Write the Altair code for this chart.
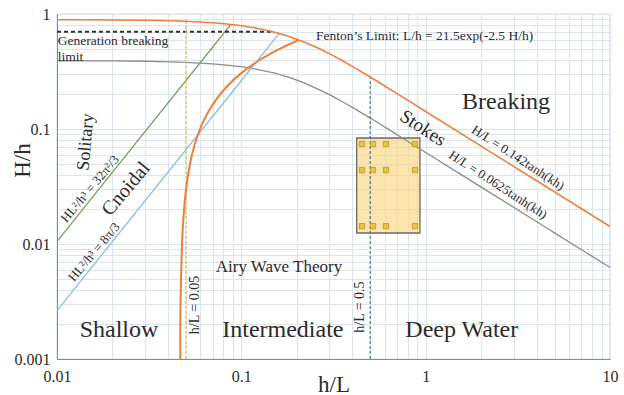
import altair as alt
import pandas as pd

# ---------------- data ----------------
# Breaking limit  H/L = 0.142 tanh(kh)
brk_x = [0.01, 0.02, 0.03, 0.05, 0.07, 0.1, 0.12, 0.15, 0.2, 0.25, 0.3, 0.35, 0.4, 0.5, 0.7, 1, 2, 5, 10]
brk_y = [0.891, 0.888, 0.882, 0.864, 0.838, 0.791, 0.755, 0.697, 0.604, 0.521, 0.452, 0.396, 0.350, 0.283, 0.2028, 0.142, 0.071, 0.0284, 0.0142]
# Stokes limit  H/L = 0.0625 tanh(kh)
sto_x = [0.01, 0.02, 0.03, 0.05, 0.07, 0.1, 0.12, 0.15, 0.2, 0.25, 0.3, 0.35, 0.4, 0.5, 0.7, 1, 2, 5, 10]
sto_y = [0.3922, 0.3908, 0.3881, 0.3803, 0.3690, 0.3481, 0.3322, 0.3069, 0.2657, 0.2293, 0.1990, 0.1742, 0.1542, 0.1245, 0.0892, 0.0625, 0.03125, 0.0125, 0.00625]
# Fenton's limit  L/h = 21.5 exp(-2.5 H/h)
fen_x = [0.04663, 0.04665, 0.04710, 0.04769, 0.04890, 0.05014, 0.05270, 0.05540, 0.05972, 0.06767, 0.07669, 0.08689, 0.09847, 0.1116, 0.1264, 0.1433, 0.1623, 0.1840, 0.2050]
fen_y = [0.001, 0.002, 0.005, 0.01, 0.02, 0.03, 0.05, 0.07, 0.1, 0.15, 0.2, 0.25, 0.3, 0.35, 0.4, 0.45, 0.5, 0.55, 0.594]
# Solitary / cnoidal boundary  HL^2/h^3 = 32 pi^2 / 3
sol_x = [0.01, 0.0878]
sol_y = [0.01053, 0.812]
# Cnoidal / Airy boundary  HL^2/h^3 = 8 pi^2 / 3
cno_x = [0.01, 0.1605]
cno_y = [0.002632, 0.678]
# Generation breaking limit
gen_x = [0.01, 0.149]
gen_y = [0.7, 0.7]
# Depth limits  h/L = 0.05 and h/L = 0.5
lim_x = [0.05, 0.5]
lim_y0 = [0.001, 0.001]
lim_y1 = [0.864, 0.283]
# Test region
box_x = [0.4226]
box_x2 = [0.931]
box_y = [0.01246]
box_y2 = [0.0835]
# Test conditions
pt_cols = [0.4516, 0.518, 0.609, 0.875]
pt_rows = [0.074, 0.044, 0.0143]

# axis tick values
x_ticks = [round(d * m, 6) for d in (0.01, 0.1, 1) for m in range(1, 10)] + [10]
y_ticks = [round(d * m, 6) for d in (0.001, 0.01, 0.1) for m in range(1, 10)] + [1]

FONT = "Liberation Serif"
TXT = "#2b2b2b"

label_expr = ("abs(log(datum.value)/LN10 - round(log(datum.value)/LN10)) < 0.001 "
              "? format(datum.value, '~g') : ''")

xscale = alt.Scale(type="log", domain=[0.01, 10], nice=False)
yscale = alt.Scale(type="log", domain=[0.001, 1], nice=False)
xaxis = alt.Axis(title="h/L", values=x_ticks, labelExpr=label_expr, grid=True,
                 ticks=False, labelFlush=False, labelOverlap=False,
                 labelFont=FONT, labelFontSize=16, labelColor=TXT, labelPadding=9,
                 titleFont=FONT, titleFontSize=23, titleFontWeight="normal", titleColor=TXT,
                 titleY=25, titleBaseline="middle",
                 domainColor="#8a8a8a", gridColor="#dbe3eb")
yaxis = alt.Axis(title="H/h", values=y_ticks, labelExpr=label_expr, grid=True,
                 ticks=False, labelFlush=False, labelOverlap=False,
                 labelFont=FONT, labelFontSize=16, labelColor=TXT, labelPadding=7,
                 titleFont=FONT, titleFontSize=23, titleFontWeight="normal", titleColor=TXT,
                 titleX=-35, titleY=146, titleAngle=-90, titleAlign="center", titleBaseline="middle",
                 domainColor="#8a8a8a", gridColor="#dbe3eb")


def X(f="x"):
    return alt.X(f"{f}:Q", scale=xscale, axis=xaxis)


def Y(f="y"):
    return alt.Y(f"{f}:Q", scale=yscale, axis=yaxis)


def curve(xs, ys, color, width, dash=None, interp="monotone"):
    df = pd.DataFrame({"x": xs, "y": ys, "i": list(range(len(xs)))})
    kw = dict(color=color, strokeWidth=width, clip=True, interpolate=interp)
    if dash:
        kw["strokeDash"] = dash
    return alt.Chart(df).mark_line(**kw).encode(x=X(), y=Y(), order=alt.Order("i:Q"))


def label(text, x, y, size, angle=0, align="center"):
    df = pd.DataFrame({"x": [x], "y": [y], "t": [text]})
    kw = dict(font=FONT, fontSize=size, color=TXT, align=align, baseline="middle")
    if angle:
        kw["angle"] = angle % 360
    return alt.Chart(df).mark_text(**kw).encode(x=X(), y=Y(), text="t:N")


box = alt.Chart(pd.DataFrame({"x": box_x, "x2": box_x2, "y": box_y, "y2": box_y2})).mark_rect(
    fill="#f9d98c", fillOpacity=0.7, stroke="#6d6b5c", strokeWidth=1.3
).encode(x=X(), x2="x2:Q", y=Y(), y2="y2:Q")

pts_df = pd.DataFrame([{"x": c, "y": r} for r in pt_rows for c in pt_cols])
pts = alt.Chart(pts_df).mark_square(size=28, fill="#e8c24a", stroke="#b8962a",
                                    strokeWidth=0.8, opacity=1).encode(x=X(), y=Y())

lim_df = pd.DataFrame({"x": lim_x, "y": lim_y0, "y2": lim_y1})
rule05 = alt.Chart(lim_df.iloc[[0]]).mark_rule(color="#e6c84c", strokeWidth=1.3,
                                               strokeDash=[3, 2]).encode(x=X(), y=Y(), y2="y2:Q")
rule5 = alt.Chart(lim_df.iloc[[1]]).mark_rule(color="#3e6a9c", strokeWidth=1.1,
                                              strokeDash=[3, 2]).encode(x=X(), y=Y(), y2="y2:Q")

layers = [
    box,
    curve(sto_x, sto_y, "#8c8c8c", 1.3),
    curve(sol_x, sol_y, "#6f9955", 1.3, interp="linear"),
    curve(cno_x, cno_y, "#8dbbe2", 1.3, interp="linear"),
    curve(gen_x, gen_y, "#333333", 2.0, dash=[4, 3], interp="linear"),
    rule05,
    rule5,
    curve(brk_x, brk_y, "#e8823c", 1.6),
    curve(fen_x, fen_y, "#ec8035", 2.0),
    pts,
    label("Fenton\u2019s Limit: L/h = 21.5exp(-2.5 H/h)", 0.254, 0.644, 13.5, align="left"),
    label("Generation breaking", 0.0101, 0.582, 13.5, align="left"),
    label("limit", 0.0101, 0.419, 13.5, align="left"),
    label("Breaking", 2.73, 0.172, 24),
    label("Stokes", 0.967, 0.102, 19, angle=33),
    label("H/L = 0.142tanh(kh)", 3.17, 0.056, 13, angle=33),
    label("H/L = 0.0625tanh(kh)", 2.47, 0.0326, 13, angle=33),
    label("Solitary", 0.01437, 0.077, 18, angle=-85),
    label("HL\u00b2/h\u00b3 = 32\u03c0\u00b2/3", 0.0151, 0.0301, 13, angle=-50),
    label("Cnoidal", 0.02366, 0.0301, 20, angle=-50),
    label("HL\u00b2/h\u00b3 = 8\u03c0/3", 0.0159, 0.0085, 13, angle=-50),
    label("Airy Wave Theory", 0.16, 0.0063, 17),
    label("h/L = 0.05", 0.0561, 0.00295, 14, angle=-90),
    label("h/L = 0.5", 0.44, 0.00283, 14, angle=-90),
    label("Shallow", 0.0217, 0.00179, 24),
    label("Intermediate", 0.168, 0.00179, 24),
    label("Deep Water", 1.57, 0.00179, 24),
]

chart = alt.layer(*layers).properties(
    width=553, height=345,
    autosize=alt.AutoSizeParams(type="none"),
    padding={"left": 57, "top": 14, "right": 14, "bottom": 36},
    background="white",
).configure_view(stroke="#a9c6df", strokeWidth=1.2)

chart.save("out.html", embed_options={"renderer": "svg", "actions": False})
